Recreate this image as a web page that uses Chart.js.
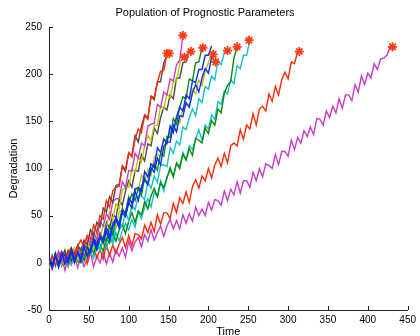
<!DOCTYPE html>
<html>
<head>
<meta charset="utf-8">
<title>Population of Prognostic Parameters</title>
<script src="https://cdn.jsdelivr.net/npm/chart.js@4.4.0/dist/chart.umd.min.js"></script>
<style>
  html, body { margin: 0; padding: 0; background: #fff; }
</style>
</head>
<body>
<canvas id="degChart" width="420" height="336"></canvas>
<script>
// every unit is sampled at the same spacing in time
const sampleStep = 4;

const gray1 = [5,-3,9,-3,7,13,2,11,8,19,13,24,19,35,29,43,38,58,54,70,64,82,83,102,97,116,114,135,128,145,157,154,176,173,192,192,212,220];
const red1 = [-3,7,-3,7,12,-1,10,16,7,18,24,16,29,25,40,32,50,46,66,59,76,80,81,103,99,117,112,131,142,138,156,152,177,175,191,203,204,222];
const magenta1 = [6,-4,5,12,1,8,1,15,7,16,5,20,28,20,32,25,44,39,52,46,65,68,68,86,80,98,97,116,111,127,124,145,147,148,168,165,181,178,195,193,210,215,241];
const yellow1 = [-4,8,0,8,-2,14,3,11,16,4,16,11,23,14,24,32,24,40,37,54,46,62,57,77,80,80,100,96,112,107,124,135,130,146,146,166,163,179,175,192,192,211,218];
const gray2 = [3,-5,10,1,9,1,13,2,10,18,7,18,8,21,28,20,32,25,43,37,51,48,67,61,76,87,80,98,97,115,108,126,124,143,137,154,165,162,178,174,196,196,212,213,226];
const green1 = [-5,8,-1,11,-3,8,3,14,2,13,10,3,17,11,25,14,27,27,23,39,30,46,43,58,50,63,73,66,79,72,90,83,97,105,98,116,113,134,133,153,147,165,176,174,195,193,212,213,228];
const blue1 = [6,-3,10,-5,6,9,0,15,4,11,2,18,16,11,26,17,29,23,38,28,41,48,40,55,53,69,63,78,80,76,97,91,105,101,122,117,131,127,145,138,155,165,161,178,174,193,191,205,205,220,220,230];
const yellow2 = [-6,6,0,10,6,-1,12,2,15,4,10,16,8,22,15,25,30,19,32,30,44,38,54,56,54,71,62,79,76,93,87,99,93,112,115,113,132,126,142,139,155,148,164,167,167,184,179,194,188,203,212,223,213];
const blue2 = [4,-6,7,-1,11,-1,6,12,0,11,5,17,6,15,23,14,27,21,33,24,38,46,37,53,49,64,58,76,66,81,88,83,101,96,111,104,123,128,128,146,139,156,155,170,165,180,189,181,196,206,201,218,221];
const cyan1 = [-3,7,-4,10,0,7,-3,13,1,10,8,2,17,9,19,25,14,25,21,33,24,39,41,38,54,45,61,56,71,71,67,86,79,92,85,103,104,102,122,116,129,125,144,141,154,163,156,174,170,187,184,198,194,214,210,223,225];
const green2 = [5,-3,9,-4,5,10,-1,6,14,2,0,13,8,20,10,21,20,12,26,21,32,23,35,41,31,44,53,43,55,51,65,57,71,79,70,85,80,90,101,91,106,100,115,109,121,114,132,130,127,143,137,151,146,163,159,180,188,192,217,229];
const cyan2 = [-4,7,-1,11,-3,6,10,-2,8,2,13,2,15,12,5,19,13,25,15,27,20,32,23,34,42,35,46,38,54,47,59,68,59,75,70,87,76,91,98,92,105,103,117,109,124,120,131,141,130,146,142,157,152,171,168,182,179,194,190,209,206,220,220,236];
const red2 = [3,-5,8,-3,4,10,-4,8,0,13,2,11,-1,11,18,5,14,4,19,8,19,10,20,27,16,29,18,31,30,25,40,32,43,33,51,41,53,53,47,63,53,69,63,75,64,81,88,79,92,87,100,90,104,111,102,116,106,124,127,124,141,131,146,142,158,146,163,166,161,179,171,187,178,194,202,195,213,211,224];
const magenta2 = [4,-6,8,-3,5,-8,6,-2,9,-5,7,-4,4,11,-4,7,0,11,-1,10,1,14,7,16,6,23,13,22,27,17,30,23,35,24,32,39,28,39,46,36,45,36,51,42,52,44,59,50,57,50,64,56,67,66,61,76,66,78,72,86,74,87,87,80,96,87,100,91,105,103,100,115,104,118,118,113,130,120,133,127,140,134,144,136,153,152,146,161,154,166,159,174,164,178,178,172,189,181,198,189,201,196,211,205,216,217,220,229];

// failure points (red asterisks)
const endTimes = [148, 151, 168, 170, 178, 193, 206, 209, 224, 236, 251, 314, 431];
const endValues = [222, 222, 241, 218, 224, 228, 221, 213, 225, 229, 236, 224, 229];

const xTicks = [0, 50, 100, 150, 200, 250, 300, 350, 400, 450];
const yTicks = [-50, 0, 50, 100, 150, 200, 250];

// matlab-ish colour order
const lineStyles = [
  [blue1, "#0a2eff"],
  [blue2, "#0a2eff"],
  [red1, "#ff2a0a"],
  [gray1, "#4a4a4a"],
  [magenta1, "#c83cc8"],
  [yellow1, "#c2c200"],
  [green1, "#0a8c0a"],
  [gray2, "#4a4a4a"],
  [yellow2, "#c2c200"],
  [cyan1, "#10c2c8"],
  [green2, "#0a8c0a"],
  [cyan2, "#10c2c8"],
  [red2, "#ff2a0a"],
  [magenta2, "#c83cc8"]
];

const toPoints = vals => vals.map((v, i) => ({ x: i * sampleStep, y: v }));

const datasets = [{
  data: endTimes.map((t, i) => ({ x: t, y: endValues[i] })),
  showLine: false,
  pointStyle: "star",
  pointRadius: 4.5,
  pointBorderWidth: 1.8,
  pointBorderColor: "#ff3a14",
  pointBackgroundColor: "#ff3a14"
}];
lineStyles.forEach(([vals, color]) => {
  datasets.push({
    data: toPoints(vals),
    borderColor: color,
    borderWidth: 1.4,
    pointRadius: 0,
    tension: 0
  });
});

// short tick marks pointing into the plot
const inwardTicks = {
  id: "inwardTicks",
  afterDatasetsDraw(chart) {
    const { ctx, chartArea, scales } = chart;
    ctx.save();
    ctx.strokeStyle = "#222";
    ctx.lineWidth = 1;
    ctx.setLineDash([]);
    ctx.beginPath();
    xTicks.forEach(v => {
      const px = Math.round(scales.x.getPixelForValue(v)) + 0.5;
      ctx.moveTo(px, chartArea.bottom);
      ctx.lineTo(px, chartArea.bottom - 4);
    });
    yTicks.forEach(v => {
      const py = Math.round(scales.y.getPixelForValue(v)) + 0.5;
      ctx.moveTo(chartArea.left, py);
      ctx.lineTo(chartArea.left + 4, py);
    });
    ctx.stroke();
    ctx.restore();
  }
};

Chart.defaults.font.family = "'Liberation Sans', Arial, sans-serif";
Chart.defaults.color = "#000";

new Chart(document.getElementById("degChart"), {
  type: "line",
  data: { datasets },
  options: {
    responsive: false,
    animation: false,
    devicePixelRatio: 1,
    layout: { padding: { right: 10 } },
    plugins: {
      legend: { display: false },
      tooltip: { enabled: false },
      title: {
        display: true,
        text: "Population of Prognostic Parameters",
        font: { size: 11, weight: "normal" },
        padding: { top: 6, bottom: 7.8 }
      }
    },
    scales: {
      x: {
        type: "linear",
        min: 0,
        max: 450,
        afterFit: s => { s.height = 26; },
        afterBuildTicks: s => { s.ticks = xTicks.map(v => ({ value: v })); },
        grid: { display: false, drawTicks: false },
        border: { display: true, color: "#222", width: 1 },
        ticks: { font: { size: 10 }, padding: 4, maxRotation: 0, autoSkip: false },
        title: { display: true, text: "Time", font: { size: 11 }, padding: { top: 0, bottom: -2.6 } }
      },
      y: {
        min: -50,
        max: 250,
        afterFit: s => { s.width = 49; },
        afterBuildTicks: s => { s.ticks = yTicks.map(v => ({ value: v })); },
        grid: { display: false, drawTicks: false },
        border: { display: true, color: "#222", width: 1 },
        ticks: { font: { size: 10 }, padding: 7, autoSkip: false },
        title: { display: true, text: "Degradation", font: { size: 11 }, padding: { top: 7.4, bottom: 0 } }
      }
    }
  },
  plugins: [inwardTicks]
});
</script>
</body>
</html>
